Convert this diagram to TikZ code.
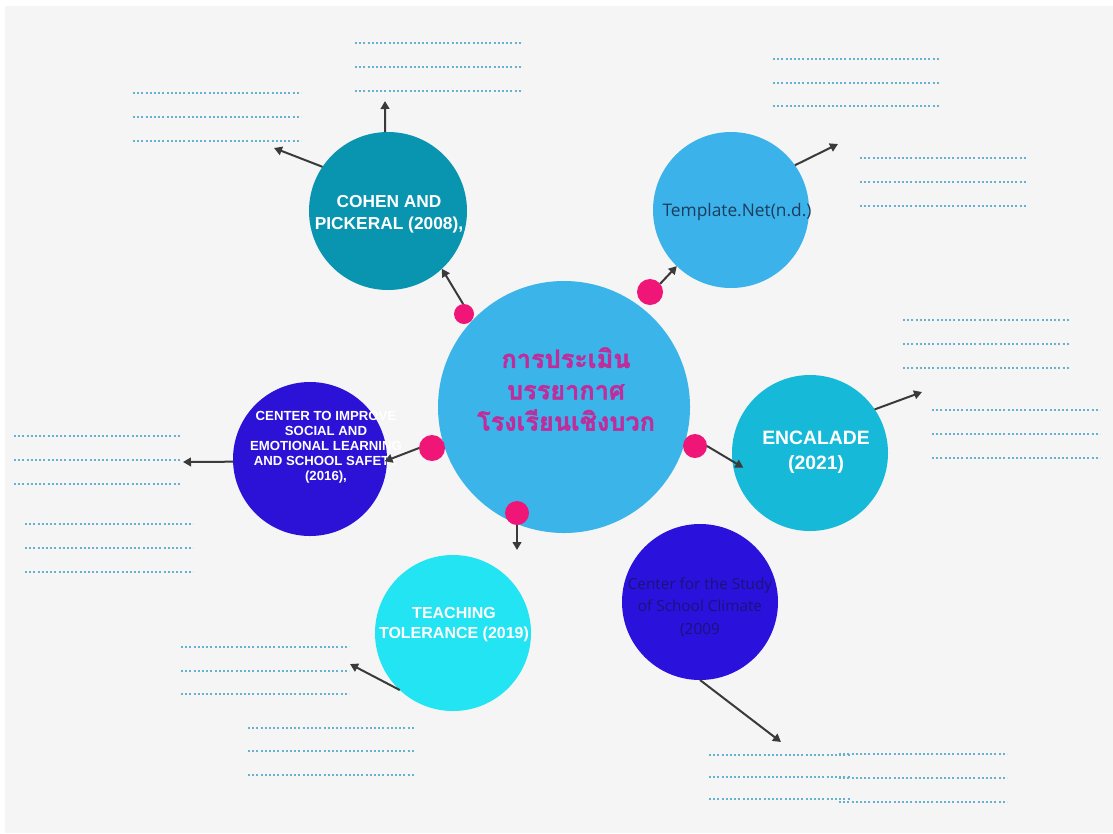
\documentclass[tikz,border=0pt]{standalone}
\usepackage{fontspec}
\setmainfont{Liberation Sans}
\newfontfamily\hv{Liberation Sans}
\newfontfamily\os{Open Sans}
\newfontfamily\thaifont[Script=Thai]{Loma}
\usetikzlibrary{arrows.meta,calc}
\definecolor{bgc}{RGB}{245,245,245}
\definecolor{mainblue}{RGB}{59,180,234}
\definecolor{tealc}{RGB}{9,148,176}
\definecolor{tmplc}{RGB}{59,178,234}
\definecolor{encalc}{RGB}{22,186,216}
\definecolor{violetc}{RGB}{42,18,220}
\definecolor{cselc}{RGB}{44,18,214}
\definecolor{teachc}{RGB}{34,228,242}
\definecolor{pinkc}{RGB}{240,22,120}
\definecolor{arrc}{RGB}{58,58,58}
\definecolor{dotc}{RGB}{100,178,206}
\definecolor{thaic}{RGB}{192,44,154}
\definecolor{tmpltext}{RGB}{28,60,95}
\definecolor{cssctext}{RGB}{25,20,120}
\begin{document}
\begin{tikzpicture}[x=0.75pt,y=-0.75pt,
  bubble/.style={circle, outer sep=0pt, inner sep=0pt, draw=none},
  pinkdot/.style={circle, fill=pinkc, outer sep=0pt, inner sep=0pt, draw=none},
  arr/.style={draw=arrc, line width=1.5pt, -{Triangle[length=6pt,width=6.5pt]}},
  dotline/.style={draw=dotc, line width=1.5pt, dash pattern=on 1.5pt off 1.65pt},
  wtext/.style={text=white, align=center, inner sep=0pt},
]
\useasboundingbox (0,0) rectangle (1113,833);
\fill[white] (0,0) rectangle (1113,833);
\fill[bgc] (5,6) rectangle (1113,833);

% dotted placeholder lines
\foreach \y in {43,67,91} \draw[dotline] (355,\y) -- (521,\y);
\foreach \y in {93,117,141} \draw[dotline] (133,\y) -- (301,\y);
\foreach \y in {59,83,106} \draw[dotline] (773,\y) -- (940,\y);
\foreach \y in {158,182,206} \draw[dotline] (860,\y) -- (1027,\y);
\foreach \y in {320,344,368} \draw[dotline] (903,\y) -- (1070,\y);
\foreach \y in {410,434,458} \draw[dotline] (932,\y) -- (1100,\y);
\foreach \y in {436,460,484} \draw[dotline] (14,\y) -- (181,\y);
\foreach \y in {524,548,572} \draw[dotline] (25,\y) -- (193,\y);
\foreach \y in {647,671,694} \draw[dotline] (181,\y) -- (349,\y);
\foreach \y in {728,751,775} \draw[dotline] (248,\y) -- (415,\y);
\foreach \y in {755,777,799} \draw[dotline] (709,\y) -- (851,\y);
\foreach \y in {754,778,802} \draw[dotline] (839,\y) -- (1007,\y);

% circles
\node[bubble, fill=mainblue, minimum size=189pt] (main) at (564,407) {};
\node[bubble, fill=tealc, minimum size=118.5pt] (cohen) at (388,211) {};
\node[bubble, fill=tmplc, minimum size=117pt] (tmpl) at (731,210) {};
\node[bubble, fill=encalc, minimum size=117pt] (encal) at (810,453) {};
\node[bubble, fill=violetc, minimum size=117pt] (cssc) at (700,602) {};
\node[bubble, fill=cselc, minimum size=115.5pt] (csel) at (310,459) {};
\node[bubble, fill=teachc, minimum size=117pt] (teach) at (453,633) {};

% texts
\node[align=center, text=thaic, inner sep=0pt, font=\thaifont\bfseries\fontsize{19}{23.5}\selectfont\addfontfeature{FakeBold=1.5}] (main-t) at (566,389)
  {การประเมิน\\บรรยากาศ\\โรงเรียนเชิงบวก};
\node[wtext, font=\hv\bfseries\fontsize{13}{16.5}\selectfont] (cohen-t) at (389,214) {COHEN AND\\PICKERAL (2008),};
\node[inner sep=0pt, text=tmpltext, font=\os\fontsize{13}{16}\selectfont] (tmpl-t) at (737,212) {Template.Net(n.d.)};
\node[wtext, font=\hv\bfseries\fontsize{14.5}{18.75}\selectfont] (encal-t) at (816,452) {ENCALADE\\(2021)};
\node[align=center, inner sep=0pt, text=cssctext, font=\os\fontsize{11.5}{17}\selectfont] (cssc-t) at (700,607) {Center for the Study\\of School Climate\\(2009};
\node[wtext, font=\hv\bfseries\fontsize{9.9}{11.25}\selectfont] (csel-t) at (326,447) {CENTER TO IMPROVE\\SOCIAL AND\\EMOTIONAL LEARNING\\AND SCHOOL SAFETY\\(2016),};
\node[wtext, font=\hv\bfseries\fontsize{12}{15}\selectfont] (teach-t) at (454,625) {TEACHING\\TOLERANCE (2019)};

% pink dots
\node[pinkdot, minimum size=15pt] (pd1) at (464,314) {};
\node[pinkdot, minimum size=19.5pt] (pd2) at (650,292) {};
\node[pinkdot, minimum size=19.5pt] (pd3) at (432,448) {};
\node[pinkdot, minimum size=18pt] (pd4) at (695,446) {};
\node[pinkdot, minimum size=18pt] (pd5) at (517,513) {};

% free ends
\coordinate (c-up) at (385,101);
\coordinate (c-ul) at (274,148);
\coordinate (t-ur) at (838,144);
\coordinate (e-ur) at (922,392);
\coordinate (s-l) at (183,462);
\coordinate (b-d) at (517,550);
\coordinate (tt-ul) at (350,664);
\coordinate (cs-dr) at (781,742);

% arrows
\draw[arr] (pd1.95) -- (cohen.-47);
\draw[arr] (cohen.92) -- (c-up);
\draw[arr] (cohen.146) -- (c-ul);
\draw[arr] (pd2.39) -- (tmpl.-134);
\draw[arr] (tmpl.35.5) -- (t-ur);
\draw[arr, shorten >=-9.5pt] (pd4.east) -- (encal.186);
\draw[arr] (encal.34) -- (e-ur);
\draw[arr, shorten >=-2pt] (pd3.west) -- (csel.-1);
\draw[arr] (csel.182) -- (s-l);
\draw[arr] (pd5.south) -- (b-d);
\draw[arr] (teach.-133) -- (tt-ul);
\draw[arr] (cssc.south) -- (cs-dr);
\end{tikzpicture}
\end{document}
